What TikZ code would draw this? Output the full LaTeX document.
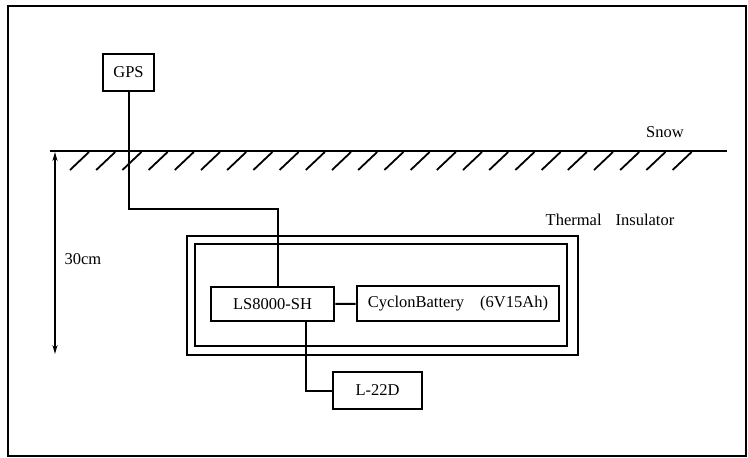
\documentclass[tikz,border=0pt]{standalone}
\usepackage{fontspec}
\setmainfont{Liberation Serif}
\usetikzlibrary{arrows.meta}

\begin{document}
\begin{tikzpicture}[x=1pt,y=-1pt,
    font=\fontsize{16.5pt}{19pt}\selectfont,
    unit/.style={draw,line width=2.6pt,inner sep=0pt,minimum height=35pt},
    wire/.style={line width=2pt}]
    \useasboundingbox (0,0) rectangle (748,458);
    % frame
    \draw[line width=2.4pt] (8,6) rectangle (746,456);

    % snow surface
    \coordinate (s1) at (50,151);
    \coordinate (s2) at (727,151);
    \draw[line width=2.2pt] (s1) -- (s2);
    \foreach \i in {0,...,23}
        \draw[line width=1.8pt] (70+26.2*\i,170) -- (89+26.2*\i,152);
    \node (snow) at (665,132) {Snow};

    % depth
    \coordinate (d1) at (55,152);
    \coordinate (d2) at (55,354);
    \draw[line width=1.6pt,{Stealth[length=9pt,width=5pt]}-{Stealth[length=9pt,width=5pt]}] (d1) -- (d2);
    \node[anchor=west] (depth) at (61,259) {30cm};

    % thermal insulator
    \draw[line width=2.4pt] (187,236) rectangle (578,355);
    \draw[line width=2.4pt] (195,244) rectangle (567,346);
    \node (ins) at (610,220) {Thermal\hspace{14pt}Insulator};

    % units
    \node[unit,minimum width=51pt,minimum height=37pt] (gps) at (128.5,72.5) {GPS};
    \node[unit,minimum width=123pt,minimum height=34pt] (ls) at (272.5,304) {LS8000-SH};
    \node[unit,minimum width=202pt] (bat) at (458,303.5) {CyclonBattery\hspace{16pt}(6V15Ah)};
    \node[unit,minimum width=89pt,minimum height=37pt] (l22) at (377.5,390.5) {L-22D};

    % wiring
    \draw[wire] (gps.south) |- (278,209) -- (278,209 |- ls.north);
    \draw[wire] (ls) -- (bat);
    \draw[wire] (306,0 |- ls.south) |- (l22.west);
\end{tikzpicture}
\end{document}
